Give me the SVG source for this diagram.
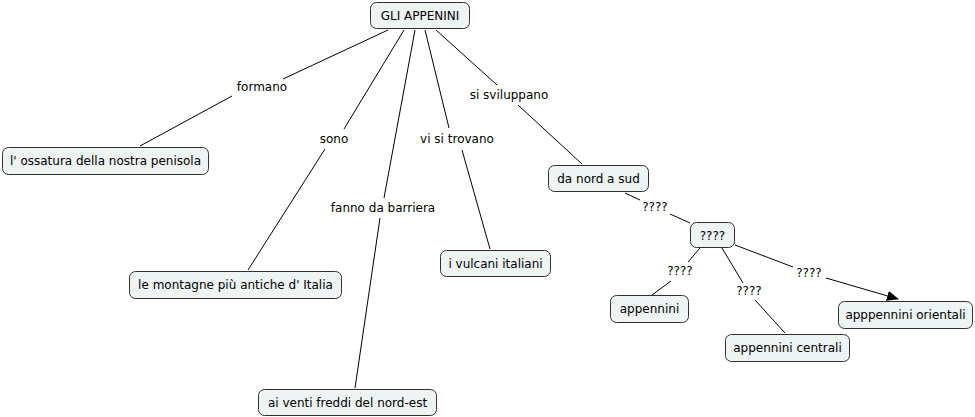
<svg xmlns="http://www.w3.org/2000/svg" width="975" height="417" viewBox="0 0 975 417">
<style>
.n rect{fill:#eef3f4;stroke:#303030;stroke-width:1}
text{font-family:"DejaVu Sans",Verdana,sans-serif;font-size:12px;fill:#000;text-anchor:middle}
.c line{stroke:#000;stroke-width:1}
</style>
<defs>
<marker id="a" markerWidth="12" markerHeight="10" refX="11" refY="5" orient="auto" markerUnits="userSpaceOnUse">
<path d="M0,0 L12,5 L0,10 z" fill="#000"/>
</marker>
</defs>
<rect width="975" height="417" fill="#fff"/>
<g class="c">
<line x1="388" y1="30" x2="283" y2="79"/>
<line x1="232" y1="96" x2="140" y2="146"/>
<line x1="404" y1="30" x2="344" y2="129"/>
<line x1="325" y1="149" x2="248" y2="270"/>
<line x1="415" y1="30" x2="384" y2="198"/>
<line x1="380" y1="218" x2="355" y2="388"/>
<line x1="425" y1="30" x2="449" y2="128"/>
<line x1="462" y1="150" x2="490" y2="249"/>
<line x1="436" y1="30" x2="497" y2="85"/>
<line x1="518" y1="105" x2="582" y2="164"/>
<line x1="625" y1="193" x2="640" y2="200"/>
<line x1="670" y1="214" x2="690" y2="223"/>
<line x1="700" y1="248" x2="688" y2="262"/>
<line x1="671" y1="281" x2="652" y2="295"/>
<line x1="722" y1="248" x2="743" y2="283"/>
<line x1="755" y1="300" x2="785" y2="333"/>
<line x1="735" y1="245" x2="793" y2="267"/>
<line x1="826" y1="278" x2="898" y2="299" marker-end="url(#a)"/>
</g>
<g class="labels">
<text x="262" y="91">formano</text>
<text x="334" y="143">sono</text>
<text x="383" y="212">fanno da barriera</text>
<text x="457" y="143">vi si trovano</text>
<text x="509" y="99">si sviluppano</text>
<text x="655" y="211">????</text>
<text x="680" y="275">????</text>
<text x="749" y="295">????</text>
<text x="809" y="277">????</text>
</g>
<g class="n" id="n1"><rect x="370.5" y="2.5" width="99" height="26" rx="6"/><text x="420" y="20">GLI APPENINI</text></g>
<g class="n" id="n2"><rect x="2.5" y="147.5" width="206" height="27" rx="6"/><text x="105.5" y="165">l' ossatura della nostra penisola</text></g>
<g class="n" id="n3"><rect x="129.5" y="271.5" width="212" height="27" rx="6"/><text x="235.5" y="289">le montagne più antiche d' Italia</text></g>
<g class="n" id="n4"><rect x="258.5" y="389.5" width="178" height="26" rx="6"/><text x="347.5" y="407">ai venti freddi del nord-est</text></g>
<g class="n" id="n5"><rect x="440.5" y="250.5" width="110" height="26" rx="6"/><text x="495.5" y="268">i vulcani italiani</text></g>
<g class="n" id="n6"><rect x="548.5" y="165.5" width="100" height="26" rx="6"/><text x="598.5" y="183">da nord a sud</text></g>
<g class="n" id="n7"><rect x="690.5" y="222.5" width="44" height="25" rx="6"/><text x="712.5" y="240">????</text></g>
<g class="n" id="n8"><rect x="610.5" y="295.5" width="78" height="27" rx="6"/><text x="649.5" y="313">appennini</text></g>
<g class="n" id="n9"><rect x="725.5" y="334.5" width="124" height="27" rx="6"/><text x="787.5" y="352">appennini centrali</text></g>
<g class="n" id="n10"><rect x="838.5" y="301.5" width="134" height="27" rx="6"/><text x="905.5" y="319">apppennini orientali</text></g>
</svg>
